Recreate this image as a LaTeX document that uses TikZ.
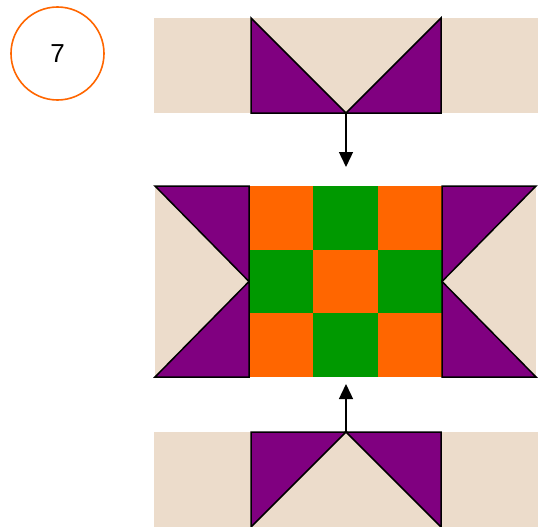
\documentclass[tikz,border=0pt]{standalone}
\usepackage{fontspec}
\setmainfont{Liberation Sans}
\definecolor{quiltbeige}{HTML}{ECDCCB}
\definecolor{quiltpurple}{HTML}{800080}
\definecolor{quiltorange}{HTML}{FF6600}
\definecolor{quiltgreen}{HTML}{009900}
\usetikzlibrary{arrows.meta,positioning}

\begin{document}
\begin{tikzpicture}[x=1pt, y=-1pt,
  patch/.style={fill=quiltbeige},
  tri/.style={fill=quiltpurple, draw=black, line width=1.5pt},
  stepnum/.style={circle, draw=quiltorange, line width=1.6pt, minimum size=93pt, inner sep=0pt, font=\fontsize{26}{30}\selectfont},
  flow/.style={-{Triangle[length=15pt,width=14pt]}, line width=1.4pt}]
\useasboundingbox (0,0) rectangle (538,527);
\node[stepnum] (num) at (57.5,53.5) {7};
\fill[patch] (154,18) rectangle (538,113);
\draw[tri] (251,18) -- (346,113) -- (251,113) -- cycle;
\draw[tri] (441,18) -- (441,113) -- (346,113) -- cycle;
\fill[patch] (155,186) rectangle (249,377);
\fill[patch] (442,186) rectangle (536,377);
\foreach \c/\r/\col in {0/0/quiltorange, 1/0/quiltgreen, 2/0/quiltorange,
                        0/1/quiltgreen, 1/1/quiltorange, 2/1/quiltgreen,
                        0/2/quiltorange, 1/2/quiltgreen, 2/2/quiltorange}
  \fill[\col] ({249+\c*64.33},{186+\r*63.67}) rectangle ++(64.33,63.67);
\draw[tri] (155,186) -- (249,186) -- (249,281.5) -- cycle;
\draw[tri] (155,377) -- (249,377) -- (249,281.5) -- cycle;
\draw[tri] (536,186) -- (442,186) -- (442,281.5) -- cycle;
\draw[tri] (536,377) -- (442,377) -- (442,281.5) -- cycle;
\fill[patch] (154,432) rectangle (538,527);
\draw[tri] (251,432) -- (346,432) -- (251,527) -- cycle;
\draw[tri] (346,432) -- (441,432) -- (441,527) -- cycle;
\coordinate (topapex) at (346,113);
\coordinate (toptip) at (346,167);
\coordinate (botapex) at (346,432);
\coordinate (bottip) at (346,384);
\draw[flow] (topapex) -- (toptip);
\draw[flow] (botapex) -- (bottip);
\end{tikzpicture}
\end{document}
